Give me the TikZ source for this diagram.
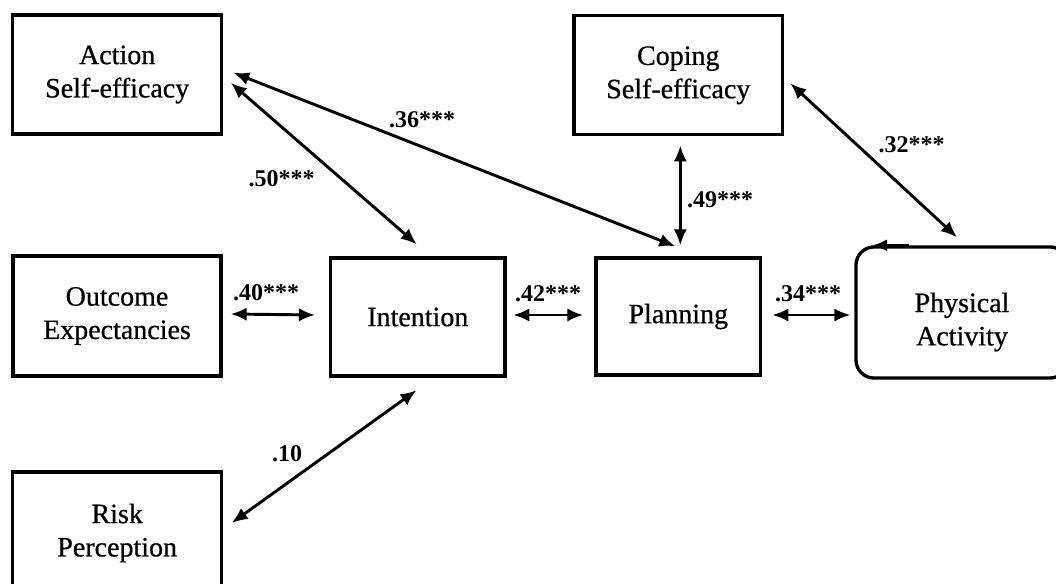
\documentclass[tikz,border=0pt]{standalone}
\usepackage{fontspec}
\setmainfont{Liberation Serif}
\newfontfamily\boxfont[FakeBold=0.7]{Liberation Serif}
\usetikzlibrary{arrows.meta}
\begin{document}
\begin{tikzpicture}[x=0.75pt,y=-0.75pt,
  box/.style={draw, line width=2.5pt, align=center, font=\boxfont\fontsize{21}{25}\selectfont, inner sep=0pt},
  dbl/.style={{Latex[length=12pt,width=10pt]}-{Latex[length=12pt,width=10pt]}, line width=2.2pt},
  lab/.style={font=\bfseries\fontsize{18}{20}\selectfont, inner sep=0pt}]
\useasboundingbox (0,0) rectangle (1056,584);
\fill[white] (0,0) rectangle (1056,584);
% boxes
\node[box, minimum width=156.8pt, minimum height=89.3pt] (act) at (117.2,74.5) {Action\\Self-efficacy};
\node[box, minimum width=156.5pt, minimum height=89.3pt] (cop) at (678.3,75.3) {Coping\\Self-efficacy};
\node[box, minimum width=156pt, minimum height=90pt] (out) at (117,316) {Outcome\\Expectancies};
\node[box, minimum width=130.7pt, minimum height=88.5pt] (int) at (417.8,317) {Intention};
\node[box, minimum width=123.5pt, minimum height=87.8pt] (pla) at (678.3,316.5) {Planning};
\node[box, minimum width=159pt, minimum height=98.3pt, rounded corners=13.5pt] (pa) at (962,312.5) {};
\node[font=\boxfont\fontsize{21}{25}\selectfont, align=center, inner sep=0pt] (pat) at (962,322) {Physical\\Activity};
\node[box, minimum width=156.8pt, minimum height=91.5pt] (risk) at (117.2,533) {Risk\\Perception};
% stray tip on the top edge of Physical Activity
\draw[line width=2.5pt, -{Latex[length=11pt,width=9pt]}] ([shift={(55,0)}]pa.north west) -- ([shift={(18,0)}]pa.north west);
% connectors
\draw[dbl] ([shift={(7.3,8.2)}]act.east) -- ([shift={(-1,-12)}]int.north);
\draw[dbl] ([shift={(10,-1.8)}]act.east) -- ([shift={(-3,-10)}]pla.north);
\draw[dbl] ([shift={(2,9)}]cop.south) -- ([shift={(2,-11)}]pla.north);
\draw[dbl] ([shift={(6,8)}]cop.east) -- ([shift={(-5,-8)}]pa.north);
\draw[dbl] ([shift={(8,-2)}]out.east) -- ([shift={(-14,-2)}]int.west);
\draw[dbl] ([shift={(6.7,-2)}]int.east) -- ([shift={(-11,-1.5)}]pla.west);
\draw[dbl] ([shift={(10,-1.5)}]pla.east) -- ([shift={(-4,2.5)}]pa.west);
\draw[dbl] ([shift={(8.3,-10)}]risk.east) -- ([shift={(-1.3,12.6)}]int.south);
% labels
\node[lab] (l36) at (422,120) {.36***};
\node[lab] (l50) at (281.5,179) {.50***};
\node[lab] (l49) at (720,200) {.49***};
\node[lab] (l32) at (911.5,145) {.32***};
\node[lab] (l40) at (266,293) {.40***};
\node[lab] (l42) at (548,294) {.42***};
\node[lab] (l34) at (808,294) {.34***};
\node[lab] (l10) at (287,454) {.10};
\end{tikzpicture}
\end{document}
